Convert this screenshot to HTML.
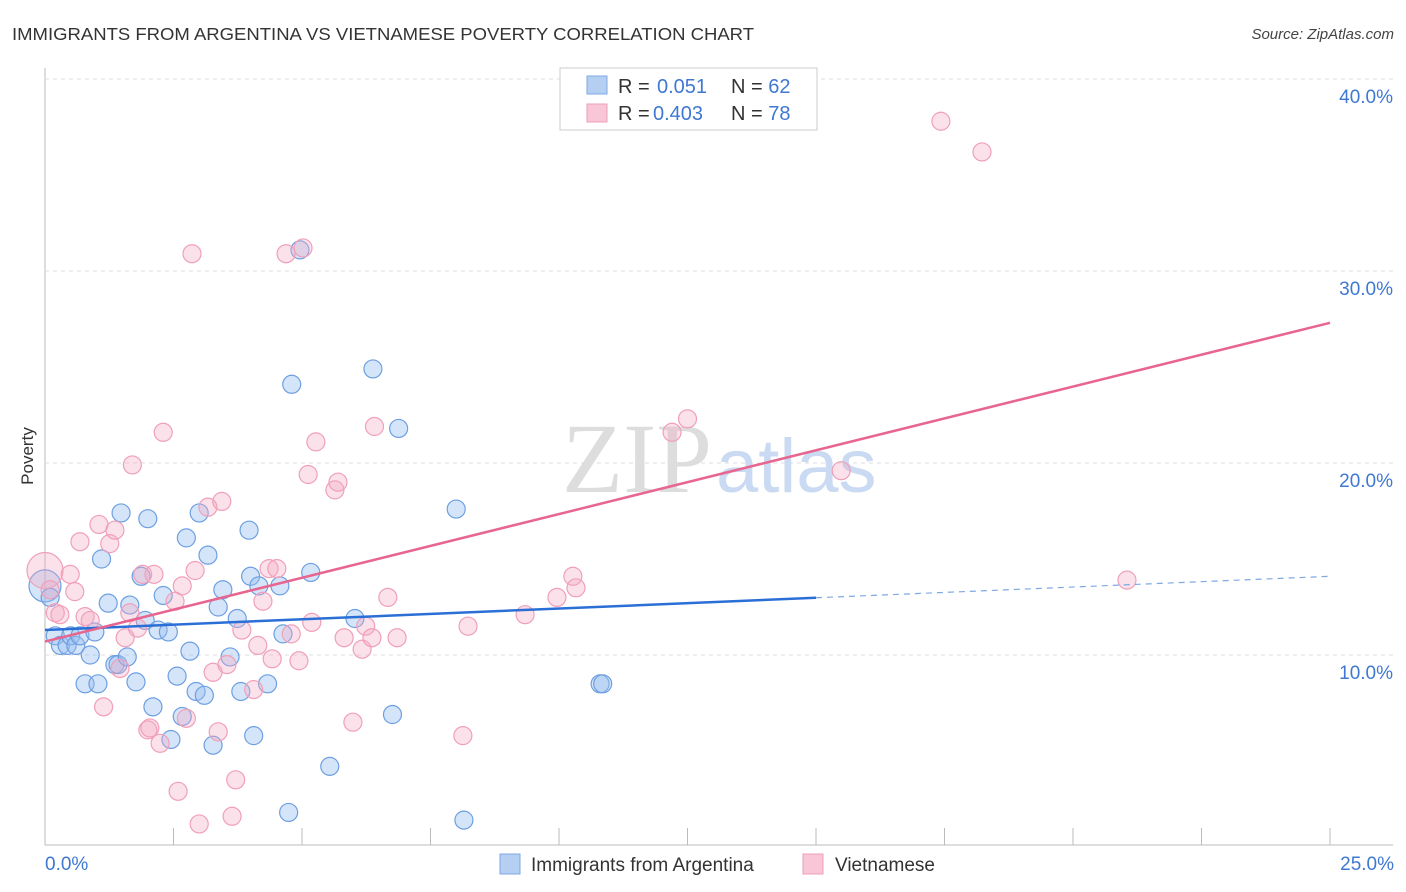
<!DOCTYPE html>
<html><head><meta charset="utf-8"><style>
body{margin:0;background:#fff;font-family:"Liberation Sans",sans-serif}
#wrap{position:relative;width:1406px;height:892px;overflow:hidden}
</style></head><body>
<div id="wrap">
<svg id="svg" width="1406" height="892" xmlns="http://www.w3.org/2000/svg">
<text x="12" y="40" font-size="17.5" fill="#333" textLength="742" lengthAdjust="spacingAndGlyphs">IMMIGRANTS FROM ARGENTINA VS VIETNAMESE POVERTY CORRELATION CHART</text>
<text x="1394" y="39" font-size="15" fill="#444" text-anchor="end" font-style="italic">Source: ZipAtlas.com</text>
<text transform="translate(33,456) rotate(-90)" font-size="17" fill="#333" text-anchor="middle">Poverty</text>
<g id="grid"></g>
<text x="712" y="492" font-size="100" fill="#ddd" text-anchor="end" font-family="Liberation Serif">ZIP</text>
<text x="716" y="492" font-size="76" fill="#c9daf2">atlas</text>
<g id="pts"></g>
<g id="lines"></g>
<g>
<rect x="560" y="68" width="257" height="62" fill="#fff" stroke="#ccc"/>
<rect x="587" y="76" width="20" height="18" fill="#b5cff2" stroke="#7ea8e4"/>
<rect x="587" y="104" width="20" height="18" fill="#f8c6d6" stroke="#ef9fb8"/>
<text x="618" y="93" font-size="20" fill="#333">R = <tspan x="657" fill="#3f78d3">0.051</tspan><tspan x="731">N = </tspan><tspan fill="#3f78d3">62</tspan></text>
<text x="618" y="120" font-size="20" fill="#333">R = <tspan x="653" fill="#3f78d3">0.403</tspan><tspan x="731">N = </tspan><tspan fill="#3f78d3">78</tspan></text>
</g>
<g>
<rect x="500" y="854" width="20" height="20" fill="#b5cff2" stroke="#7ea8e4"/>
<text x="531" y="871" font-size="19" fill="#333">Immigrants from Argentina</text>
<rect x="803" y="854" width="20" height="20" fill="#f8c6d6" stroke="#ef9fb8"/>
<text x="835" y="871" font-size="19" fill="#333">Vietnamese</text>
</g>
<text x="45" y="870" font-size="19" fill="#3f78d3">0.0%</text>
<text x="1394" y="870" font-size="19" fill="#3f78d3" text-anchor="end">25.0%</text>
</svg>
</div>
<script>
const yTicks=[10,20,30,40];
const yTickLabels=["10.0%","20.0%","30.0%","40.0%"];
const xTicks=[0,2.5,5,7.5,10,12.5,15,17.5,20,22.5,25];
const blueX=[0,0.1,0.2,0.3,0.43,0.5,0.6,0.68,0.78,0.88,0.97,1.03,1.1,1.23,1.36,1.42,1.48,1.6,1.65,1.77,1.87,1.95,2.0,2.1,2.2,2.3,2.4,2.45,2.57,2.67,2.75,2.82,2.94,3.0,3.1,3.17,3.27,3.37,3.46,3.6,3.74,3.81,3.97,4.0,4.06,4.16,4.33,4.57,4.63,4.74,4.8,4.96,5.17,5.54,6.03,6.38,6.76,6.88,8.0,8.15,10.8,10.85];
const blueY=[13.6,13.0,11.0,10.5,10.5,11.0,10.5,11.0,8.5,10.0,11.2,8.5,15.0,12.7,9.5,9.5,17.4,9.9,12.6,8.6,14.1,11.8,17.1,7.3,11.3,13.1,11.2,5.6,8.9,6.8,16.1,10.2,8.1,17.4,7.9,15.2,5.3,12.5,13.4,9.9,11.9,8.1,16.5,14.1,5.8,13.6,8.5,13.6,11.1,1.8,24.1,31.1,14.3,4.2,11.9,24.9,6.9,21.8,17.6,1.4,8.5,8.5];
const pinkX=[0,0.1,0.2,0.29,0.49,0.58,0.68,0.78,0.88,1.05,1.14,1.26,1.36,1.46,1.56,1.65,1.7,1.8,1.9,2.0,2.04,2.12,2.24,2.3,2.53,2.59,2.67,2.75,2.86,2.92,3.0,3.17,3.27,3.37,3.44,3.54,3.64,3.71,3.83,4.06,4.14,4.24,4.36,4.42,4.51,4.69,4.79,4.94,5.02,5.12,5.19,5.27,5.64,5.7,5.82,5.99,6.17,6.24,6.36,6.41,6.67,6.85,8.13,8.23,9.34,9.96,10.27,10.33,12.2,12.5,15.49,17.43,18.23,21.05];
const pinkY=[14.4,13.4,12.2,12.1,14.2,13.3,15.9,12.0,11.8,16.8,7.3,15.8,16.5,9.3,10.9,12.2,19.9,11.4,14.2,6.1,6.2,14.2,5.4,21.6,12.8,2.9,13.6,6.7,30.9,14.4,1.2,17.7,9.1,6.0,18.0,9.5,1.6,3.5,11.3,8.2,10.5,12.8,14.5,9.8,14.5,30.9,11.1,9.7,31.2,19.4,11.7,21.1,18.6,19.0,10.9,6.5,10.3,11.5,10.9,21.9,13.0,10.9,5.8,11.5,12.1,13.0,14.1,13.5,21.6,22.3,19.6,37.8,36.2,13.9];
const blueTrend=[11.3,14.1];
const pinkTrend=[10.7,27.3];
const NS='http://www.w3.org/2000/svg';
const X=v=>45+v/25*1285, Y=v=>847-v*19.2;
function mk(t,a,p){const e=document.createElementNS(NS,t);for(const k in a)e.setAttribute(k,a[k]);p.appendChild(e);return e;}
const grid=document.getElementById('grid');
mk('line',{x1:45,y1:68,x2:45,y2:845,stroke:'#bbb'},grid);
mk('line',{x1:45,y1:845,x2:1393,y2:845,stroke:'#bbb'},grid);
yTicks.forEach((t,i)=>{
 const l=mk('line',{x1:45,y1:Y(t),x2:1393,y2:Y(t),stroke:'#ddd','stroke-dasharray':'4,4'},grid);
 
 
 const tx=mk('text',{x:1393,y:Y(t)+24,'font-size':19,fill:'#3f78d3','text-anchor':'end'},grid);
 tx.textContent=yTickLabels[i];
 
 
});
xTicks.forEach(t=>{
 const l=mk('line',{x1:X(t),y1:828,x2:X(t),y2:845,stroke:'#bbb'},grid);
 
 
});
const pts=document.getElementById('pts');
blueX.forEach((x,i)=>{
 const c=mk('circle',{cx:X(x),cy:Y(blueY[i]),r:i==0?16:9,fill:'rgba(150,190,240,0.4)',stroke:'#6d9fe2','stroke-width':1.2},pts);
 
 
});
pinkX.forEach((x,i)=>{
 const c=mk('circle',{cx:X(x),cy:Y(pinkY[i]),r:i==0?18:9,fill:'rgba(244,170,195,0.35)',stroke:'#f0a0b8','stroke-width':1.2},pts);
 
 
});
const ln=document.getElementById('lines');
const bAt=v=>blueTrend[0]+(blueTrend[1]-blueTrend[0])*v/25;
let l1=mk('line',{x1:X(0),y1:Y(bAt(0)),x2:X(15),y2:Y(bAt(15)),stroke:'#2a6fd6','stroke-width':2.5},ln);


let l2=mk('line',{x1:X(15),y1:Y(bAt(15)),x2:X(25),y2:Y(bAt(25)),stroke:'#7ea8e4','stroke-width':1.2,'stroke-dasharray':'6,5'},ln);


let l3=mk('line',{x1:X(0),y1:Y(pinkTrend[0]),x2:X(25),y2:Y(pinkTrend[1]),stroke:'#e8658f','stroke-width':2.5},ln);


</script>
</body></html>
